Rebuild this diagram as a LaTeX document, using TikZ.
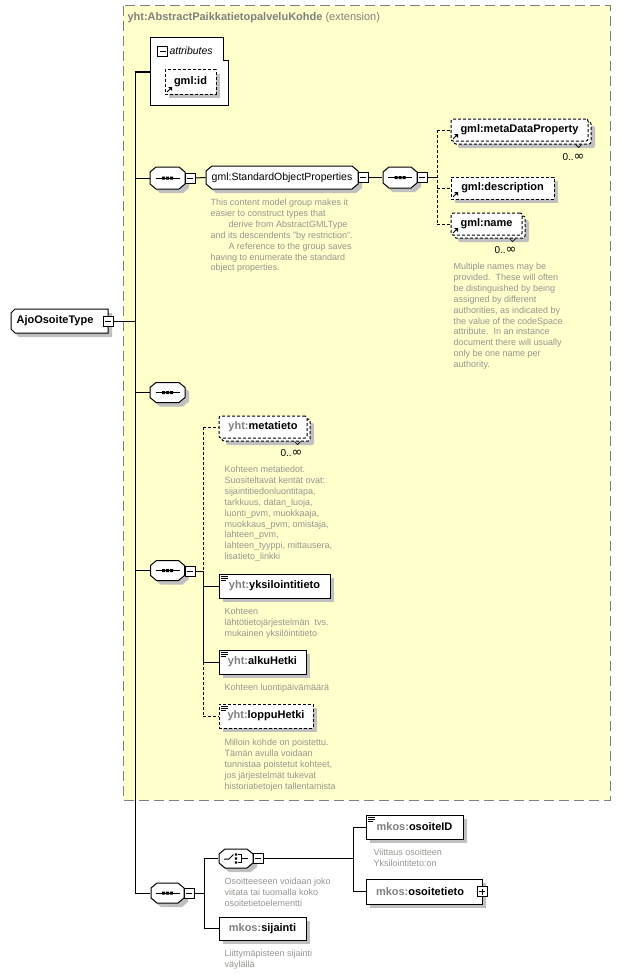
\documentclass[tikz,border=0pt]{standalone}
\usepackage{fontspec}
\setmainfont{Liberation Sans}
\newfontfamily\symfont{DejaVu Sans}
\usetikzlibrary{calc,shadows}
\definecolor{yel}{RGB}{255,255,204}
\definecolor{dgray}{RGB}{128,128,128}
\definecolor{shad}{RGB}{192,192,192}
\definecolor{docc}{RGB}{150,150,145}
\newcommand\octo[4]{%
 \begin{scope}[shift={(#1+4,#2+4)}]
 \fill[shad] (-#3+6,-#4) -- (#3-6,-#4) -- (#3,-#4+5) -- (#3,#4-5) -- (#3-6,#4) -- (-#3+6,#4) -- (-#3,#4-5) -- (-#3,-#4+5) -- cycle;
 \end{scope}
 \begin{scope}[shift={(#1,#2)}]
 \draw[fill=white] (-#3+6,-#4) -- (#3-6,-#4) -- (#3,-#4+5) -- (#3,#4-5) -- (#3-6,#4) -- (-#3+6,#4) -- (-#3,#4-5) -- (-#3,-#4+5) -- cycle;
 \end{scope}}
\newcommand\seqsym[2]{%
 \begin{scope}[shift={(#1,#2)}]
 \draw (-12,0) -- (12,0);
 \fill (-5.5,-1.5) rectangle (-2.5,1.5) (-1.5,-1.5) rectangle (1.5,1.5) (2.5,-1.5) rectangle (5.5,1.5);
 \end{scope}}
\newcommand\choicesym[2]{%
 \begin{scope}[shift={(#1,#2)}]
 \draw (-12,0.5) -- (-7,0.5) -- (-2.5,-4);
 \fill (-1.2,-5.2) rectangle (1.2,-2.8) (-1.2,-1.2) rectangle (1.2,1.2) (-1.2,2.8) rectangle (1.2,5.2);
 \draw (2,-4) -- (5,-4) -- (5,4) -- (2,4) (5,0) -- (12,0);
 \end{scope}}
\newcommand\simpleicon[1]{%
 \draw[line width=0.7pt] ($(#1.north west)+(2,2.5)$) -- ++(7,0) ($(#1.north west)+(2,4.5)$) -- ++(7,0) ($(#1.north west)+(2,6.5)$) -- ++(5,0);}
\newcommand\reficon[1]{%
 \draw[line width=1pt] ($(#1.south west)+(2.5,-2.5)$) -- ++(3,-3);
 \fill ($(#1.south west)+(7.5,-7.5)$) -- ++(-4,0) -- ++(4,4) -- cycle;}
\newcommand\notchv[1]{%
 \draw[line width=0.7pt] ($(#1.south east)+(-16,0)$) -- ++(3,3) -- ++(3,-3);}
\newcommand\infmult{0..{\symfont\fontsize{13}{12}\selectfont ∞}}
\begin{document}
\begin{tikzpicture}[x=1pt,y=-1pt,line width=1pt,
 elem/.style={draw, fill=white, inner sep=0, font=\fontsize{11}{13}\selectfont\bfseries,
   copy shadow={shadow xshift=4pt,shadow yshift=-4pt,fill=shad,draw=none}},
 opt/.style={dash pattern=on 3pt off 2pt},
 optelem/.style={elem, opt},
 backbox/.style={draw, fill=white, inner sep=0, opt, rounded corners=2pt,
   copy shadow={shadow xshift=4pt,shadow yshift=-4pt,fill=shad,draw=none}},
 frontbox/.style={draw, fill=white, inner sep=0, opt, rounded corners=2pt, font=\fontsize{11}{13}\selectfont\bfseries},
 anch/.style={inner sep=0, minimum width=35pt, minimum height=21pt},
 mbox/.style={draw, fill=white, minimum size=10pt, inner sep=0, line width=0.8pt,
   path picture={\draw[line width=0.8pt] ([xshift=2pt]path picture bounding box.west) -- ([xshift=-2pt]path picture bounding box.east);}},
 pbox/.style={draw, fill=white, minimum size=10pt, inner sep=0, line width=0.8pt,
   path picture={\draw[line width=0.8pt] ([xshift=2pt]path picture bounding box.west) -- ([xshift=-2pt]path picture bounding box.east)
     ([yshift=-2pt]path picture bounding box.north) -- ([yshift=2pt]path picture bounding box.south);}},
 doctext/.style={anchor=north west, inner sep=0, align=left, text=docc, font=\fontsize{9}{10.9}\selectfont},
 mult/.style={inner sep=0, font=\fontsize{10}{12}\selectfont}]
\useasboundingbox (0,0) rectangle (621,974);
\fill[white] (0,0) rectangle (621,974);
% extension box
\fill[yel] (123,6) rectangle (610,800);
\draw[dgray, dash pattern=on 10pt off 5pt] (123,6) rectangle (610,800);
\node[anchor=west, inner sep=0, text=dgray, font=\fontsize{11}{13}\selectfont] (title) at (127,18) {\textbf{yht:AbstractPaikkatietopalveluKohde} (extension)};
% attributes
\draw[fill=white] (150,38) -- (223,38) -- (223,61) -- (228,61) -- (228,105) -- (150,105) -- cycle;
\node[mbox] (attrm) at (162.5,51) {};
\node[anchor=west, inner sep=0, font=\fontsize{10.5}{12}\selectfont\itshape] (attrlbl) at (169,51) {attributes};
\coordinate (attrin) at (150,72);
\node[optelem, minimum width=51pt, minimum height=24pt] (gid) at (190.5,82) {gml:id};
\reficon{gid}
% root
\begin{scope}[shift={(4,4)}]
\fill[shad] (15,309) -- (108,309) -- (108,333) -- (15,333) -- (11,329) -- (11,313) -- cycle;
\end{scope}
\draw[fill=white] (15,309) -- (108,309) -- (108,333) -- (15,333) -- (11,329) -- (11,313) -- cycle;
\node[inner sep=0, font=\fontsize{11}{13}\selectfont\bfseries] (ajo) at (55,321) {AjoOsoiteType};
\node[mbox] (ajom) at (108,321.5) {};
% bus
\coordinate (bt) at (135,72);
\coordinate (bb) at (135,893);
% sequence 1 and group
\octo{167.5}{178}{17.5}{11}
\seqsym{167.5}{178}
\node[anch] (s1) at (167.5,178) {};
\node[mbox] (s1m) at (190,178) {};
\octo{282}{177.5}{76}{11.5}
\node[inner sep=0, font=\fontsize{10.5}{12}\selectfont, minimum width=152pt, minimum height=23pt] (sop) at (282,177.5) {gml:StandardObjectProperties};
\node[mbox] (sopm) at (363,177.5) {};
\node[doctext] (sopdoc) at (210,198.5) {This content model group makes it\\easier to construct types that\\\hspace*{18pt}derive from AbstractGMLType\\and its descendents "by restriction".\\\hspace*{18pt}A reference to the group saves\\having to enumerate the standard\\object properties.};
% sequence 2
\octo{400}{177.5}{17}{10.5}
\seqsym{400}{177.5}
\node[anch] (s2) at (400,177.5) {};
\node[mbox] (s2m) at (422,177.5) {};
\coordinate (b2) at (437,177.5);
\node[backbox, minimum width=137pt, minimum height=22pt] (mdpb) at (522.5,133) {};
\notchv{mdpb}
\node[frontbox, minimum width=137pt, minimum height=22pt] (mdp) at (519.5,130) {gml:metaDataProperty};
\reficon{mdp}
\node[mult, anchor=east] (mdpmult) at (585,157) {\infmult};
\node[optelem, minimum width=103pt, minimum height=22pt] (desc) at (502.5,188) {gml:description};
\reficon{desc}
\node[backbox, minimum width=71pt, minimum height=22pt] (nameb) at (489.5,227) {};
\notchv{nameb}
\node[frontbox, minimum width=71pt, minimum height=22pt] (name) at (486.5,224) {gml:name};
\reficon{name}
\node[mult, anchor=east] (namemult) at (517,250) {\infmult};
\node[doctext] (namedoc) at (453,262.5) {Multiple names may be\\provided.\ \ These will often\\be distinguished by being\\assigned by different\\authorities, as indicated by\\the value of the codeSpace\\attribute.\ \ In an instance\\document there will usually\\only be one name per\\authority.};
% sequence 3
\octo{167.5}{392.5}{17.5}{10}
\seqsym{167.5}{392.5}
\node[anch] (s3) at (167.5,392.5) {};
% sequence 4
\octo{167.5}{570.5}{17}{10}
\seqsym{167.5}{570.5}
\node[anch] (s4) at (167.5,570.5) {};
\node[mbox] (s4m) at (190,571) {};
\coordinate (b4) at (203,571);
\node[backbox, minimum width=88pt, minimum height=22pt] (metab) at (266,430) {};
\notchv{metab}
\node[frontbox, minimum width=88pt, minimum height=22pt] (meta) at (263,427) {{\color{dgray}yht:}metatieto};
\node[mult, anchor=east] (metamult) at (303,453) {\infmult};
\node[doctext] (metadoc) at (224,465.5) {Kohteen metatiedot.\\Suositeltavat kentät ovat:\\sijaintitiedonluontitapa,\\tarkkuus, datan\_luoja,\\luonti\_pvm, muokkaaja,\\muokkaus\_pvm, omistaja,\\lahteen\_pvm,\\lahteen\_tyyppi, mittausera,\\lisatieto\_linkki};
\node[elem, minimum width=111pt, minimum height=24pt] (yks) at (274.5,586) {{\color{dgray}yht:}yksilointitieto};
\simpleicon{yks}
\node[doctext] (yksdoc) at (224,607.5) {Kohteen\\lähtötietojärjestelmän\ \ tvs.\\mukainen yksilöintitieto};
\node[elem, minimum width=87pt, minimum height=24pt] (alku) at (262.5,662) {{\color{dgray}yht:}alkuHetki};
\simpleicon{alku}
\node[doctext] (alkudoc) at (224,683.5) {Kohteen luontipäivämäärä};
\node[optelem, minimum width=94pt, minimum height=24pt] (loppu) at (266,716) {{\color{dgray}yht:}loppuHetki};
\simpleicon{loppu}
\node[doctext] (loppudoc) at (224,738.5) {Milloin kohde on poistettu.\\Tämän avulla voidaan\\tunnistaa poistetut kohteet,\\jos järjestelmät tukevat\\historiatietojen tallentamista};
% sequence 5
\octo{167.5}{893}{16.5}{10}
\seqsym{167.5}{893}
\node[anch] (s5) at (167.5,893) {};
\node[mbox] (s5m) at (189,893) {};
\coordinate (b5) at (204,893);
\octo{236}{858.5}{17}{9.5}
\choicesym{236}{858.5}
\node[anch] (c1) at (236,858.5) {};
\node[mbox] (c1m) at (258,858.5) {};
\node[doctext] (c1doc) at (224,877.5) {Osoitteeseen voidaan joko\\viitata tai tuomalla koko\\osoitetietoelementti};
\coordinate (b6) at (353,858.5);
\node[elem, minimum width=97pt, minimum height=24pt] (oid) at (414.5,827) {{\color{dgray}mkos:}osoiteID};
\simpleicon{oid}
\node[doctext] (oiddoc) at (373,848.5) {Viittaus osoitteen\\Yksilointiteto:on};
\node[elem, minimum width=116pt, minimum height=25pt] (otieto) at (424,891.5) {{\color{dgray}mkos:}osoitetieto\hspace*{8pt}};
\node[pbox] (otietop) at (482,891.5) {};
\node[elem, minimum width=87pt, minimum height=23pt] (sij) at (262.5,928.5) {{\color{dgray}mkos:}sijainti};
\node[doctext] (sijdoc) at (224,949.5) {Liittymäpisteen sijainti\\väylällä};
% connectors
\draw (ajom.east) -- (ajom.east -| bt);
\draw (bt) -- (bb);
\draw (bt) -- (attrin);
\draw (s1.west -| bt) -- (s1.west);
\draw (s1m.east) -- (sop.west);
\draw (sopm.east) -- (s2.west);
\draw (s2m.east) -- (b2);
\draw[opt] (mdp.west -| b2) -- (name.west -| b2);
\draw[opt] (mdp.west -| b2) -- (mdp.west);
\draw[opt] (desc.west -| b2) -- (desc.west);
\draw[opt] (name.west -| b2) -- (name.west);
\draw (s3.west -| bt) -- (s3.west);
\draw (s4.west -| bt) -- (s4.west);
\draw (s4m.east) -- (b4);
\draw[opt] (meta.west -| b4) -- (b4);
\draw (b4) -- (alku.west -| b4);
\draw[opt] (alku.west -| b4) -- (loppu.west -| b4);
\draw[opt] (meta.west -| b4) -- (meta.west);
\draw (yks.west -| b4) -- (yks.west);
\draw (alku.west -| b4) -- (alku.west);
\draw[opt] (loppu.west -| b4) -- (loppu.west);
\draw (bb) -- (s5.west);
\draw (s5m.east) -- (b5);
\draw (c1.west -| b5) -- (sij.west -| b5);
\draw (c1.west -| b5) -- (c1.west);
\draw (sij.west -| b5) -- (sij.west);
\draw (c1m.east) -- (b6);
\draw (oid.west -| b6) -- (otieto.west -| b6);
\draw (oid.west -| b6) -- (oid.west);
\draw (otieto.west -| b6) -- (otieto.west);
\end{tikzpicture}
\end{document}
